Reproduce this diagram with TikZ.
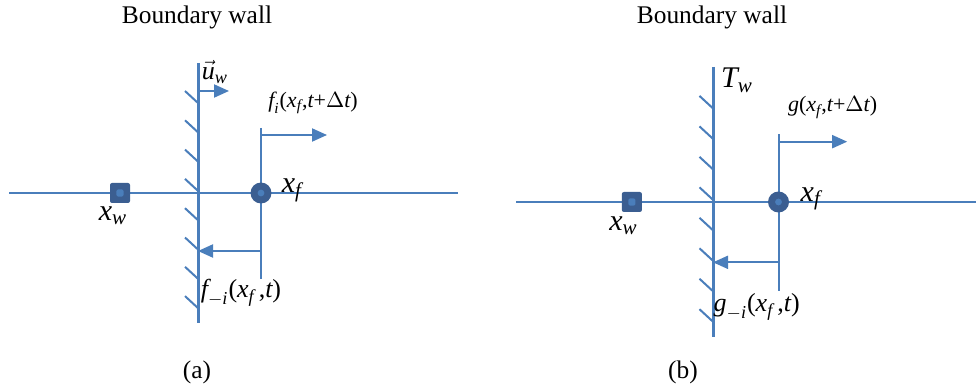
\documentclass[tikz,border=0pt]{standalone}
\usepackage{amsmath}
\usepackage{fontspec}
\setmainfont{Liberation Serif}
\usetikzlibrary{arrows.meta}
\definecolor{wallblue}{RGB}{74,126,187}
\definecolor{ptdark}{RGB}{59,94,145}
\newcommand{\vi}[1]{\text{\itshape #1}}
\newcommand{\vu}[1]{\text{#1}}
\tikzset{
  wall/.style={draw=wallblue, line width=1.5pt},
  axis/.style={draw=wallblue, line width=1pt},
  hatch/.style={draw=wallblue, line width=1pt},
  flow/.style={-{Triangle[length=7.5pt,width=6.5pt]}, draw=wallblue, line width=1pt},
  wallpt/.style={rectangle, fill=ptdark, rounded corners=1pt, minimum size=10pt, inner sep=0pt,
    path picture={\fill[wallblue] ([shift={(-1.8pt,-1.8pt)}]path picture bounding box.center) rectangle ++(3.6pt,3.6pt);}},
  fluidpt/.style={circle, fill=ptdark, minimum size=10.5pt, inner sep=0pt,
    path picture={\fill[wallblue] (path picture bounding box.center) circle (1.7pt);}},
  lbl/.style={font=\fontsize{13}{15}\selectfont, inner sep=0pt},
  blbl/.style={font=\fontsize{15}{17}\selectfont, inner sep=0pt},
  slbl/.style={font=\fontsize{11}{13}\selectfont, inner sep=0pt},
  title/.style={font=\fontsize{12.7}{15}\selectfont, inner sep=0pt}
}
\begin{document}
\begin{tikzpicture}[x=0.5pt, y=-0.5pt]
  \useasboundingbox (0,0) rectangle (976,390);

  % (a) moving wall, density distribution
  \node[title] (titleA) at (197,17) {Boundary wall};
  \begin{scope}[shift={(198,193)}]
    \coordinate (wtA) at (0,-130);
    \coordinate (wbA) at (0,130);
    \coordinate (alA) at (-189,0);
    \coordinate (arA) at (260,0);
    \coordinate (vtA) at (63,-65);
    \coordinate (vbA) at (63,86);
    \coordinate (usA) at (0,-102);
    \coordinate (ueA) at (31,-102);
    \coordinate (fsA) at (63,-58);
    \coordinate (feA) at (129,-58);
    \coordinate (bsA) at (63,58);
    \coordinate (beA) at (0,58);
    \draw[axis] (alA) -- (arA);
    \foreach \i in {0,...,7}
      \draw[hatch] (-13,-102+29.3*\i) -- (0,-90+29.3*\i);
    \draw[wall] (wtA) -- (wbA);
    \draw[axis] (vtA) -- (vbA);
    \draw[flow] (usA) -- (ueA);
    \draw[flow] (fsA) -- (feA);
    \draw[flow] (bsA) -- (beA);
    \node[wallpt] (xwA) at (-78,0) {};
    \node[fluidpt] (xfA) at (63,0) {};
    \node[blbl] (xwlA) at (-85,23) {$\vi{x}_{\vi{w}}$};
    \node[blbl] (xflA) at (94,-3) {$\vi{x}_{\vi{f}}$};
    \node[lbl] (uwA) at (17,-121) {$\vec{\vi{u}}_{\vi{w}}$};
    \node[slbl] (fiA) at (115,-90) {$\vi{f}_{\vi{i}}\vu{(}\vi{x}_{\vi{f}}\vu{,}\vi{t}\vu{+}\Delta\vi{t}\vu{)}$};
    \node[lbl] (fmA) at (43,100) {$\vi{f}_{-\vi{i}}\vu{(}\vi{x}_{\vi{f}}\,\vu{,}\vi{t}\vu{)}$};
  \end{scope}
  \node[title] (capA) at (197,372) {(a)};

  % (b) wall temperature, energy distribution
  \node[title] (titleB) at (712,17) {Boundary wall};
  \begin{scope}[shift={(713,202)}, scale=1.04]
    \coordinate (wtB) at (0,-130);
    \coordinate (wbB) at (0,130);
    \coordinate (alB) at (-189,0);
    \coordinate (arB) at (253,0);
    \coordinate (vtB) at (63,-65);
    \coordinate (vbB) at (63,86);
    \coordinate (fsB) at (63,-58);
    \coordinate (feB) at (129,-58);
    \coordinate (bsB) at (63,58);
    \coordinate (beB) at (0,58);
    \draw[axis] (alB) -- (arB);
    \foreach \i in {0,...,7}
      \draw[hatch] (-13,-102+29.3*\i) -- (0,-90+29.3*\i);
    \draw[wall] (wtB) -- (wbB);
    \draw[axis] (vtB) -- (vbB);
    \draw[flow] (fsB) -- (feB);
    \draw[flow] (bsB) -- (beB);
    \node[wallpt] (xwB) at (-78,0) {};
    \node[fluidpt] (xfB) at (63,0) {};
    \node[blbl] (xwlB) at (-86,23) {$\vi{x}_{\vi{w}}$};
    \node[blbl] (xflB) at (94,-3) {$\vi{x}_{\vi{f}}$};
    \node[blbl] (twB) at (23,-117) {$\vi{T}_{\vi{w}}$};
    \node[slbl] (giB) at (115,-91) {$\vi{g}\vu{(}\vi{x}_{\vi{f}}\vu{,}\vi{t}\vu{+}\Delta\vi{t}\vu{)}$};
    \node[lbl] (gmB) at (42,101) {$\vi{g}_{-\vi{i}}\vu{(}\vi{x}_{\vi{f}}\,\vu{,}\vi{t}\vu{)}$};
  \end{scope}
  \node[title] (capB) at (683,372) {(b)};
\end{tikzpicture}
\end{document}
